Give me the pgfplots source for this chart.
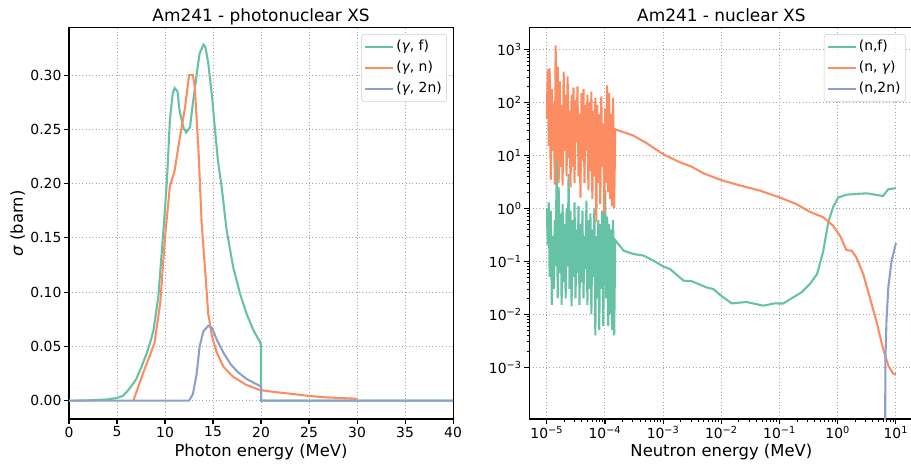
\documentclass[border=0pt]{standalone}
\usepackage{fontspec}
\setmainfont{DejaVu Sans}
\usepackage{pgfplots}
\pgfplotsset{compat=1.18}
\usepackage{pgfplotstable}
\definecolor{cf}{HTML}{66C2A5}
\definecolor{cn}{HTML}{FC8D62}
\definecolor{ctwo}{HTML}{8DA0CB}

% (n,gamma) and (n,f): resonance region read off the picture, then the smooth part
\pgfplotstableread{
x y
1.00e-5 49
1.04e-5 420
1.08e-5 15
1.12e-5 440
1.17e-5 3.5
1.22e-5 180
1.27e-5 12
1.32e-5 95
1.37e-5 2.8
1.42e-5 1200
1.48e-5 8
1.54e-5 480
1.60e-5 3
1.67e-5 250
1.73e-5 6
1.80e-5 90
1.87e-5 2.7
1.95e-5 380
2.03e-5 12
2.11e-5 140
2.19e-5 4
2.28e-5 310
2.37e-5 9
2.46e-5 70
2.56e-5 2.5
2.67e-5 140
2.77e-5 6
2.88e-5 190
3.00e-5 3
3.12e-5 110
3.24e-5 18
3.37e-5 200
3.51e-5 4
3.65e-5 60
3.79e-5 1.6
3.95e-5 150
4.10e-5 8
4.27e-5 180
4.44e-5 3
4.62e-5 90
4.80e-5 12
4.99e-5 140
5.19e-5 2.2
5.40e-5 100
5.62e-5 5
5.84e-5 160
6.07e-5 1.5
6.32e-5 70
6.57e-5 4
6.83e-5 120
7.11e-5 0.55
7.39e-5 90
7.69e-5 3
7.99e-5 60
8.31e-5 1.2
8.65e-5 130
8.99e-5 6
9.35e-5 40
9.73e-5 0.8
1.01e-4 75
1.05e-4 3
1.09e-4 210
1.14e-4 2
1.18e-4 150
1.23e-4 1.5
1.28e-4 60
1.33e-4 1.1
1.38e-4 120
1.44e-4 1.0
1.50e-4 31
3.1e-4 23.6
5.2e-4 17
1.0e-3 10.5
1.95e-3 7.4
3.1e-3 6.1
4.9e-3 4.6
1.0e-2 3.4
2.1e-2 2.7
4.6e-2 2.16
0.10 1.61
0.195 1.2
0.33 0.86
0.56 0.68
0.83 0.47
1.1 0.30
1.41 0.163
1.74 0.158
2.09 0.118
2.75 0.057
3.55 0.021
4.68 0.007
6.03 0.0022
7.41 0.00107
8.9 0.00076
10 0.00073
}\ngdata

\pgfplotstableread{
x y
1.00e-5 1.0
1.04e-5 0.2
1.08e-5 1.3
1.12e-5 0.05
1.17e-5 0.9
1.22e-5 0.015
1.27e-5 0.3
1.32e-5 0.03
1.37e-5 0.6
1.42e-5 0.08
1.48e-5 9
1.54e-5 0.02
1.60e-5 2.5
1.67e-5 0.06
1.73e-5 0.8
1.80e-5 0.015
1.87e-5 1.2
1.95e-5 0.04
2.03e-5 0.5
2.11e-5 0.02
2.19e-5 1.0
2.28e-5 0.08
2.37e-5 4.4
2.46e-5 0.03
2.56e-5 0.9
2.67e-5 0.014
2.77e-5 0.6
2.88e-5 0.05
3.00e-5 1.3
3.12e-5 0.02
3.24e-5 0.4
3.37e-5 0.06
3.51e-5 1.1
3.65e-5 0.015
3.79e-5 0.5
3.95e-5 0.04
4.10e-5 0.9
4.27e-5 0.02
4.44e-5 0.3
4.62e-5 0.07
4.80e-5 1.4
4.99e-5 0.015
5.19e-5 0.6
5.40e-5 0.03
5.62e-5 0.8
5.84e-5 0.01
6.07e-5 0.4
6.32e-5 0.05
6.57e-5 1.0
6.83e-5 0.004
7.11e-5 0.3
7.39e-5 0.02
7.69e-5 0.6
7.99e-5 0.005
8.31e-5 0.5
8.65e-5 0.03
8.99e-5 0.9
9.35e-5 0.006
9.73e-5 0.4
1.01e-4 2.2
1.05e-4 0.02
1.09e-4 0.7
1.14e-4 0.006
1.18e-4 0.5
1.23e-4 0.01
1.28e-4 0.4
1.33e-4 0.005
1.38e-4 0.6
1.44e-4 0.004
1.50e-4 0.25
2.1e-4 0.158
3.1e-4 0.137
4.6e-4 0.128
6.8e-4 0.103
1.0e-3 0.080
1.32e-3 0.071
2.24e-3 0.043
3.1e-3 0.042
5.6e-3 0.032
7.2e-3 0.030
1.07e-2 0.021
1.51e-2 0.016
2.69e-2 0.017
5.25e-2 0.0145
8.3e-2 0.016
0.115 0.0159
0.174 0.021
0.24 0.026
0.33 0.037
0.44 0.057
0.56 0.15
0.69 0.55
0.83 1.05
1.02 1.6
1.41 1.81
2.09 1.87
3.16 1.92
6.0 1.71
7.4 2.3
10 2.4
}\nfdata

\pgfplotsset{
  xsstyle/.style={
    scale only axis, width=276.5pt, height=281.7pt,
    axis line style={line width=0.8pt},
    tick align=outside, tick pos=left,
    major tick length=3.5pt, minor tick length=2pt,
    major tick style={line width=0.8pt, black},
    minor tick style={line width=0.6pt, black},
    grid=major, major grid style={dotted, line width=0.7pt, color=black!35},
    tick label style={font=\fontsize{10}{12}\selectfont},
    xticklabel style={yshift=1.5pt},
    yticklabel style={xshift=1.5pt},
    every axis title/.style={at={(axis description cs:0.5,1.0153)}, anchor=base,
      font=\fontsize{12.2}{14}\selectfont},
    every axis x label/.style={at={(axis description cs:0.5,-0.0963)}, anchor=base,
      font=\fontsize{11.8}{14}\selectfont},
    every axis y label/.style={at={(axis description cs:-0.1205,0.5)}, rotate=90, anchor=base,
      font=\fontsize{11.8}{14}\selectfont},
    legend style={font=\fontsize{10}{12}\selectfont, draw=black!20, rounded corners=2pt,
      fill=white, fill opacity=0.8, text opacity=1, anchor=north east,
      row sep=2.5pt, inner xsep=2pt, inner ysep=3pt,
      nodes={inner sep=1.5pt, text height=7.5pt, text depth=2pt}},
    legend cell align=left,
    legend image code/.code={\draw[#1] (0pt,0pt) -- (20pt,0pt);},
    /pgf/number format/assume math mode=true,
    every axis plot/.append style={line width=1.5pt},
  }
}

\begin{document}
\begin{tikzpicture}
\begin{axis}[xsstyle,
  title={Am241 - photonuclear XS},
  xlabel={Photon energy (MeV)},
  ylabel={{\itshape σ} (barn)},
  xmin=0, xmax=40, ymin=-0.0169, ymax=0.3436,
  xtick={0,5,10,15,20,25,30,35,40},
  ytick={0,0.05,0.10,0.15,0.20,0.25,0.30},
  yticklabel style={/pgf/number format/.cd, fixed, fixed zerofill, precision=2},
  legend style={at={(0.984,0.984)}},
]
\addplot[cf] coordinates {
(0,0) (2,0.0003) (4,0.0012) (5,0.0025) (5.6,0.0045) (6.0,0.008) (6.5,0.0135)
(7.0,0.02) (7.5,0.03) (8.1,0.044) (8.5,0.055) (8.8,0.065) (9.3,0.096) (9.6,0.13)
(9.9,0.165) (10.2,0.203) (10.5,0.258) (10.8,0.283) (11.0,0.288) (11.3,0.285)
(11.5,0.268) (11.9,0.252) (12.2,0.247) (12.6,0.252) (12.9,0.274) (13.3,0.301)
(13.6,0.32) (14.0,0.328) (14.2,0.326) (14.5,0.311) (14.9,0.28) (15.2,0.25)
(15.5,0.222) (15.9,0.197) (16.4,0.158) (17.1,0.123) (17.8,0.099) (18.5,0.08)
(19.2,0.065) (19.9,0.054) (20.0,0.051) (20.0,0) (40,0)};
\addlegendentry{({\itshape γ}, f)}
\addplot[cn] coordinates {
(6.7,0) (7.7,0.025) (8.9,0.053) (9.5,0.090) (10.0,0.151) (10.5,0.197) (11.0,0.212)
(11.5,0.240) (12.1,0.271) (12.5,0.300) (12.9,0.300) (13.1,0.289) (13.5,0.228)
(13.8,0.166) (14.2,0.117) (14.5,0.080) (14.9,0.059) (15.4,0.044) (16.1,0.031)
(17.1,0.022) (18.5,0.0144) (19.9,0.0098) (21.7,0.0077) (23.4,0.0061) (25.1,0.0043)
(26.9,0.003) (30.0,0.0018)};
\addlegendentry{({\itshape γ}, n)}
\addplot[ctwo] coordinates {
(0,0) (12.5,0) (12.9,0.006) (13.3,0.025) (13.6,0.05) (14.0,0.064) (14.5,0.069)
(14.9,0.067) (15.4,0.056) (16.1,0.044) (16.8,0.034) (17.5,0.027) (18.5,0.020)
(19.9,0.0135) (20.0,0.013) (20.0,0) (40,0)};
\addlegendentry{({\itshape γ}, 2n)}
\end{axis}

\begin{axis}[xsstyle, at={(331.4pt,0pt)},
  title={Am241 - nuclear XS},
  xlabel={Neutron energy (MeV)},
  xmode=log, ymode=log,
  xmin=5.01e-6, xmax=19.95, ymin=1.047e-4, ymax=2570,
  xtick={1e-5,1e-4,1e-3,1e-2,1e-1,1,10},
  xticklabels={10\textsuperscript{−5},10\textsuperscript{−4},10\textsuperscript{−3},10\textsuperscript{−2},10\textsuperscript{−1},10\textsuperscript{0},10\textsuperscript{1}},
  ytick={1e-3,1e-2,1e-1,1,10,100,1000},
  yticklabels={10\textsuperscript{−3},10\textsuperscript{−2},10\textsuperscript{−1},10\textsuperscript{0},10\textsuperscript{1},10\textsuperscript{2},10\textsuperscript{3}},
  legend style={at={(0.980,0.984)}},
]
\addplot[cf] table {\nfdata};
\addlegendentry{(n,f)}
\addplot[cn] table {\ngdata};
\addlegendentry{(n, {\itshape γ})}
\addplot[ctwo] coordinates {
(6.45,1e-6) (6.6,0.0015) (6.9,0.008) (7.4,0.032) (8.4,0.10) (10,0.22)};
\addlegendentry{(n,2n)}
\end{axis}
\pgfresetboundingbox
\path[use as bounding box] (-49.7pt,-33.1pt) rectangle (606.2pt,301.7pt);
\end{tikzpicture}
\end{document}
